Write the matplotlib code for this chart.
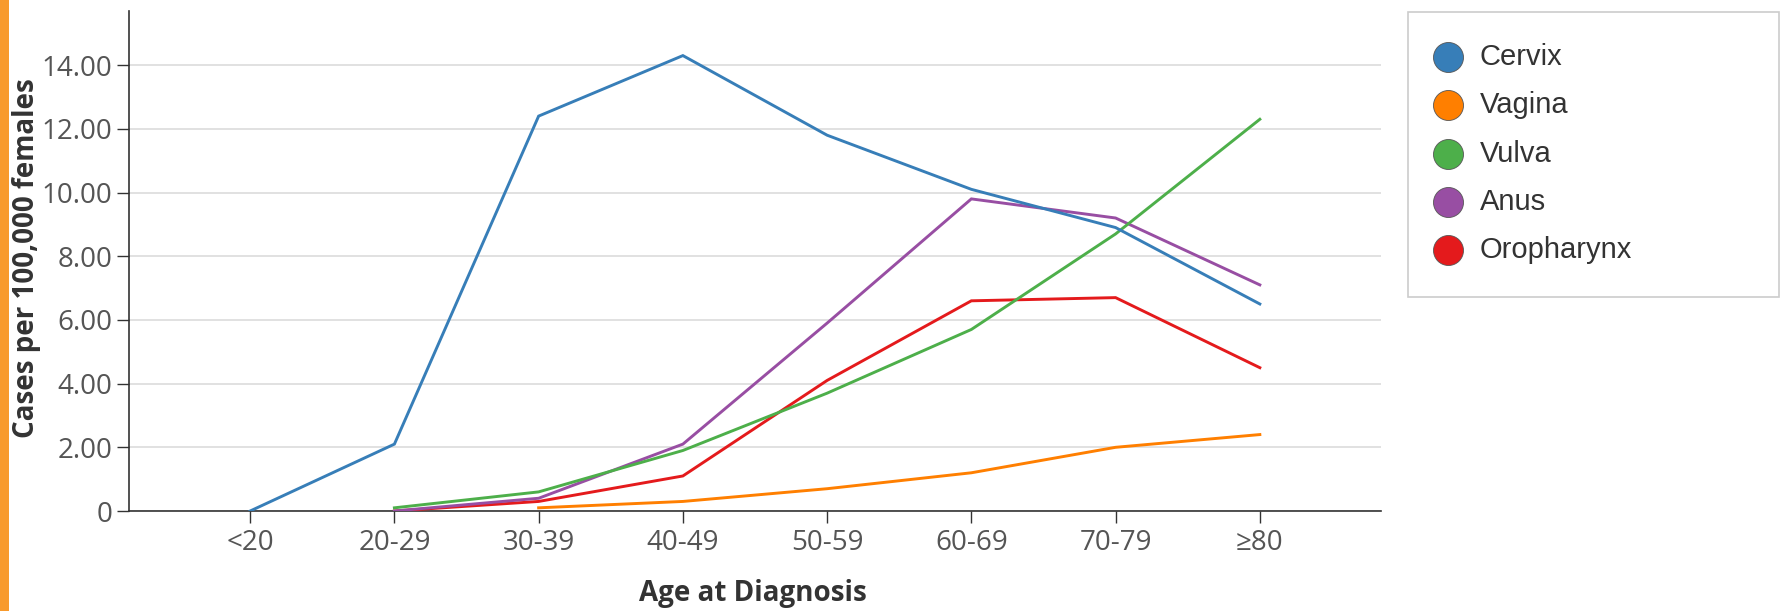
import matplotlib.pyplot as plt
from matplotlib.lines import Line2D
from matplotlib.patches import Rectangle
import numpy as np

# ====== DATA ======
age_groups = ["<20", "20-29", "30-39", "40-49", "50-59", "60-69", "70-79", "\u226580"]
cervix = [0.0, 2.1, 12.4, 14.3, 11.8, 10.1, 8.9, 6.5]
vagina = [None, None, 0.1, 0.3, 0.7, 1.2, 2.0, 2.4]
vulva = [None, 0.1, 0.6, 1.9, 3.7, 5.7, 8.7, 12.3]
anus = [None, 0.0, 0.4, 2.1, 5.9, 9.8, 9.2, 7.1]
oropharynx = [None, 0.0, 0.3, 1.1, 4.1, 6.6, 6.7, 4.5]

series_names = ["Cervix", "Vagina", "Vulva", "Anus", "Oropharynx"]
series_values = [cervix, vagina, vulva, anus, oropharynx]
series_colors = ["#377eb8", "#ff7f00", "#4daf4a", "#984ea3", "#e41a1c"]
y_ticks = [0, 2, 4, 6, 8, 10, 12, 14]

# ====== FIGURE ======
plt.rcParams['font.family'] = ['Open Sans', 'DejaVu Sans']
W, H = 1781, 611
fig = plt.figure(figsize=(W / 100, H / 100), dpi=100)

# orange strip on the left edge
fig.patches.append(Rectangle((0, 0), 9 / W, 1, transform=fig.transFigure,
                             facecolor="#f89a2c", edgecolor="none"))

ax = fig.add_axes([129 / W, 1 - 511 / H, (1381 - 129) / W, (511 - 11) / H])

x = np.arange(len(age_groups))
# draw in reverse so Cervix sits on top like the original
for name, vals, col in reversed(list(zip(series_names, series_values, series_colors))):
    xs = [xi for xi, v in zip(x, vals) if v is not None]
    ys = [v for v in vals if v is not None]
    ax.plot(xs, ys, color=col, lw=2.1, solid_joinstyle="miter", zorder=3)

ax.set_xlim(-0.84, 7.84)
ax.set_ylim(0, 15.7)
ax.set_xticks(x)
ax.set_xticklabels(age_groups)
ax.set_yticks(y_ticks)
ax.set_yticklabels(["0" if t == 0 else f"{t:.2f}" for t in y_ticks])

ax.grid(axis="y", color="#dcdcdc", lw=1.2, zorder=0)
ax.set_axisbelow(True)
for s in ["top", "right"]:
    ax.spines[s].set_visible(False)
for s in ["left", "bottom"]:
    ax.spines[s].set_color("#333333")
    ax.spines[s].set_linewidth(1.2)

ax.tick_params(axis="both", colors="#333333", labelcolor="#555555",
               labelsize=20, length=8.6, width=1.0)
ax.tick_params(axis="y", pad=3.5)
ax.tick_params(axis="x", pad=4)

ax.set_xlabel("Age at Diagnosis", fontsize=20, fontweight="bold", color="#333333")
ax.set_ylabel("Cases per 100,000 females", fontsize=20, fontweight="bold", color="#333333")
# put the axis labels where the original has them (pixel positions)
ax.xaxis.set_label_coords(753 / W, 1 - 593 / H, transform=fig.transFigure)
ax.yaxis.set_label_coords(27 / W, 1 - 258 / H, transform=fig.transFigure)
ax.xaxis.label.set_va("center")
ax.yaxis.label.set_va("center")

# ====== LEGEND (drawn by hand to match the box shape) ======
fig.patches.append(Rectangle((1408 / W, 1 - 297 / H), (W - 1410) / W, (297 - 12) / H,
                             transform=fig.transFigure, facecolor="white",
                             edgecolor="#cccccc", lw=1.2))
row_y = 57
for name, col in zip(series_names, series_colors):
    fig.add_artist(Line2D([1448 / W], [1 - row_y / H], marker="o", markersize=21.6,
                          markerfacecolor=col, markeredgecolor="#555555",
                          markeredgewidth=0.6, transform=fig.transFigure))
    fig.text(1480 / W, 1 - row_y / H, name, fontsize=21, color="#333333",
             va="center", ha="left", family=["Liberation Sans", "DejaVu Sans"])
    row_y += 48.3

fig.savefig("out.png", dpi=100)
